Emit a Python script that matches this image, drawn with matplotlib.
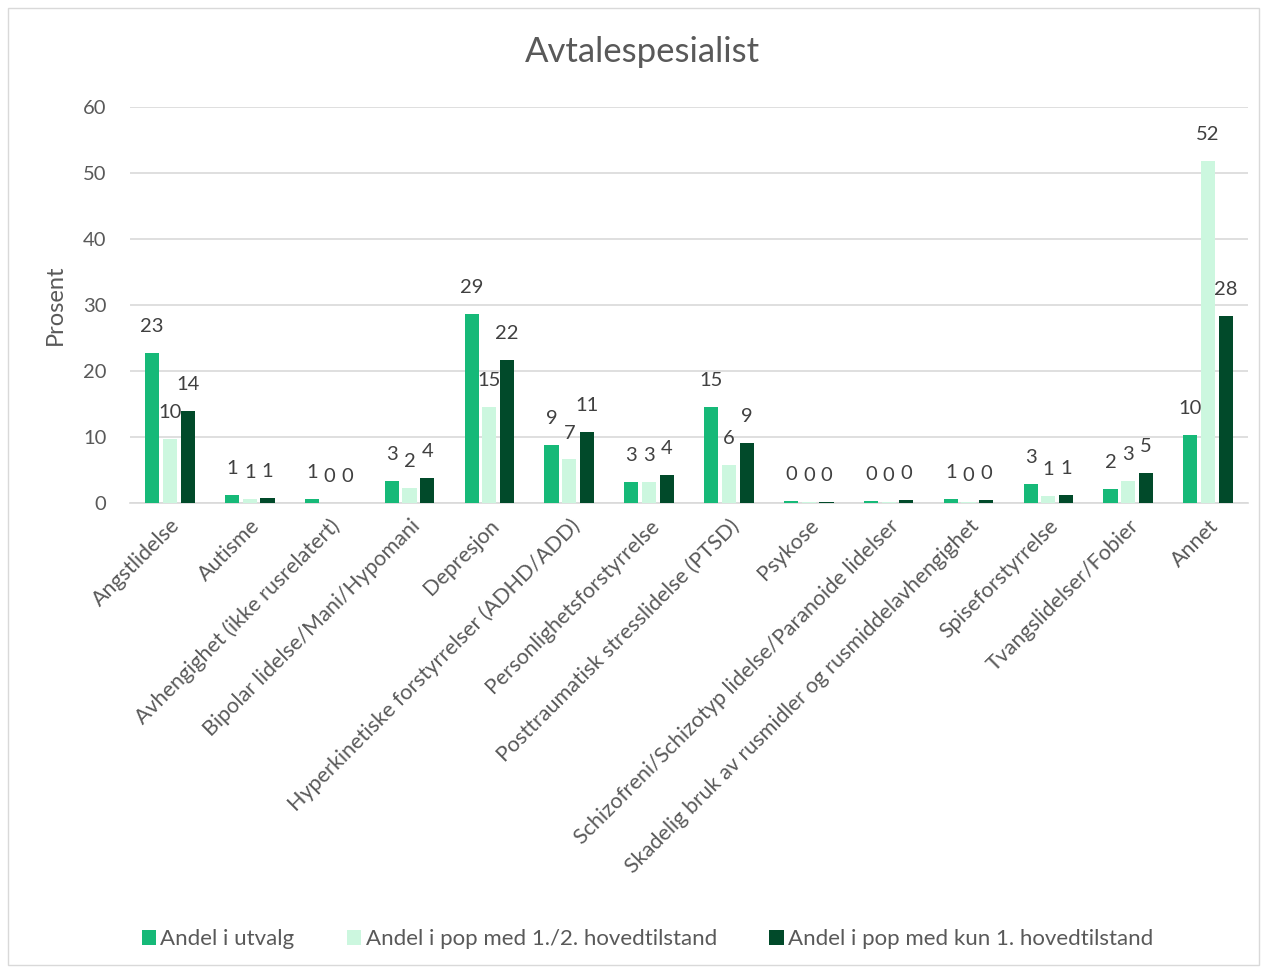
import numpy as np
import matplotlib
matplotlib.use("Agg")
import matplotlib.pyplot as plt
from matplotlib.patches import Rectangle

plt.rcParams['font.family'] = ['Lato', 'DejaVu Sans']

categories = ["Angstlidelse", "Autisme", "Avhengighet (ikke rusrelatert)",
              "Bipolar lidelse/Mani/Hypomani", "Depresjon",
              "Hyperkinetiske forstyrrelser (ADHD/ADD)", "Personlighetsforstyrrelse",
              "Posttraumatisk stresslidelse (PTSD)", "Psykose",
              "Schizofreni/Schizotyp lidelse/Paranoide lidelser",
              "Skadelig bruk av rusmidler og rusmiddelavhengighet",
              "Spiseforstyrrelse", "Tvangslidelser/Fobier", "Annet"]

utvalg = [22.7, 1.2, 0.6, 3.3, 28.6, 8.8, 3.2, 14.6, 0.3, 0.3, 0.6, 2.9, 2.1, 10.3]
pop_12 = [9.7, 0.6, 0.0, 2.3, 14.6, 6.6, 3.2, 5.8, 0.1, 0.1, 0.2, 1.1, 3.4, 51.8]
pop_1 = [13.9, 0.8, 0.0, 3.8, 21.7, 10.8, 4.2, 9.1, 0.2, 0.4, 0.5, 1.2, 4.6, 28.3]

series = [("Andel i utvalg", utvalg, "#16B978"),
          ("Andel i pop med 1./2. hovedtilstand", pop_12, "#CCF7DF"),
          ("Andel i pop med kun 1. hovedtilstand", pop_1, "#014A2A")]

txt = "#595959"

fig = plt.figure(figsize=(12.67, 9.71), dpi=100)
ax = fig.add_axes([0.1026, 0.482, 0.8824, 0.408])

x = np.arange(len(categories))
pitch = 0.222
width = 0.178
for i, (name, vals, col) in enumerate(series):
    pos = x + (i - 1) * pitch
    ax.bar(pos, vals, width, color=col, label=name, zorder=3)
    for px, v in zip(pos, vals):
        ax.annotate(f"{v:.0f}", (px, v), xytext=(0, 19), textcoords="offset points",
                    ha="center", va="center", fontsize=14.5, color="#404040")

ax.set_xlim(-0.5, len(categories) - 0.5)
ax.set_ylim(0, 60)
ax.set_yticks(range(0, 61, 10))
ax.yaxis.grid(True, color="#D9D9D9", linewidth=1.2, zorder=0)
for s in ["top", "right", "left"]:
    ax.spines[s].set_visible(False)
ax.spines["bottom"].set_color("#D9D9D9")
ax.spines["bottom"].set_linewidth(1.2)
ax.tick_params(axis="y", length=0, labelsize=14.5, colors=txt, pad=17)
ax.set_xticks(x)
ax.set_xticklabels(categories, rotation=45, ha="right", rotation_mode="anchor")
ax.tick_params(axis="x", length=0, labelsize=15.5, colors=txt, pad=9)
ax.set_ylabel("Prosent", fontsize=17, color=txt, labelpad=12)

fig.text(0.507, 0.946, "Avtalespesialist", ha="center", va="center", fontsize=25, color=txt)

fig.legend(loc="center", bbox_to_anchor=(0.511, 0.033), ncol=3, frameon=False,
           fontsize=16, handlelength=0.65, handleheight=0.65, handletextpad=0.2,
           columnspacing=2.35, labelcolor=txt)

fig.patches.append(Rectangle((0.006, 0.006), 0.988, 0.986, transform=fig.transFigure,
                             fill=False, edgecolor="#D9D9D9", linewidth=1))

fig.savefig("out.png", dpi=100)
